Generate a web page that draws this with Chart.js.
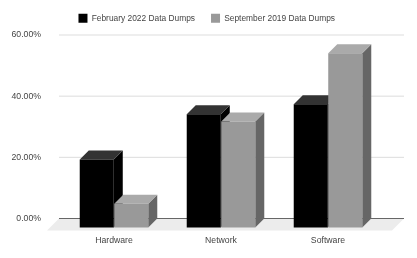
<!DOCTYPE html>
<html>
<head>
	<meta charset="utf-8">
	<title>Data Dumps</title>
	<script src="https://cdn.jsdelivr.net/npm/chart.js@4/dist/chart.umd.min.js"></script>
	<style>
		html, body { margin: 0; padding: 0; background: #fff; }
		canvas { display: block; }
	</style>
</head>
<body>
	<canvas id="chart" width="417" height="258"></canvas>
	<script>
		var categories = ["Hardware", "Network", "Software"];
		var february2022 = [22.2, 37, 40.3];
		var september2019 = [7.8, 34.7, 57];
		var seriesNames = ["February 2022 Data Dumps", "September 2019 Data Dumps"];
		var yTicks = [0, 20, 40, 60];

		var depth = 9;
		var floorDepth = 12;
		var textColor = "#444";
		var legendShiftX = 16;
		var legendShiftY = -2.25;

		// floor and grid lines run wider than the category area, so they are drawn here
		var backdrop = {
			id: "backdrop",
			afterLayout: function (chart) {
				// legend is centred on the whole canvas, not the padded area
				chart.legend.left += legendShiftX;
				chart.legend.right += legendShiftX;
				chart.legend.top += legendShiftY;
				chart.legend.bottom += legendShiftY;
			},
			beforeDatasetsDraw: function (chart) {
				var ctx = chart.ctx, area = chart.chartArea, y = chart.scales.y;
				var left = area.left - 1.5, right = area.right + 22.5;
				var zero = y.getPixelForValue(0);
				ctx.save();
				ctx.fillStyle = "#ececec";
				ctx.beginPath();
				ctx.moveTo(left, zero);
				ctx.lineTo(right, zero);
				ctx.lineTo(right - floorDepth, zero + floorDepth);
				ctx.lineTo(left - floorDepth, zero + floorDepth);
				ctx.closePath();
				ctx.fill();
				y.ticks.forEach(function (t) {
					var py = y.getPixelForValue(t.value);
					ctx.strokeStyle = t.value === 0 ? "#666" : "#ddd";
					ctx.lineWidth = 1;
					ctx.beginPath();
					ctx.moveTo(left, py);
					ctx.lineTo(right, py);
					ctx.stroke();
				});
				ctx.restore();
			}
		};

		// chart.js paints the last dataset first, here the grey one has to go over the black side
		var extrude = {
			id: "extrude",
			beforeDatasetDraw: function () {
				return false;
			},
			afterDatasetsDraw: function (chart) {
				var ctx = chart.ctx;
				ctx.save();
				ctx.translate(0, depth);
				chart.data.datasets.forEach(function (ds, i) {
					var meta = chart.getDatasetMeta(i);
					meta.data.forEach(function (bar) {
						var l = bar.x - bar.width / 2, r = bar.x + bar.width / 2;
						ctx.fillStyle = ds.sideColor;
						ctx.beginPath();
						ctx.moveTo(r, bar.y);
						ctx.lineTo(r + depth, bar.y - depth);
						ctx.lineTo(r + depth, bar.base - depth);
						ctx.lineTo(r, bar.base);
						ctx.closePath();
						ctx.fill();
						ctx.fillStyle = ds.topColor;
						ctx.beginPath();
						ctx.moveTo(l, bar.y);
						ctx.lineTo(l + depth, bar.y - depth);
						ctx.lineTo(r + depth, bar.y - depth);
						ctx.lineTo(r, bar.y);
						ctx.closePath();
						ctx.fill();
					});
					meta.controller.draw();
				});
				ctx.restore();
			}
		};

		new Chart(document.getElementById("chart"), {
			type: "bar",
			data: {
				labels: categories,
				datasets: [
					{ label: seriesNames[0], data: february2022, backgroundColor: "#000", sideColor: "#000", topColor: "#333" },
					{ label: seriesNames[1], data: september2019, backgroundColor: "#999", sideColor: "#666", topColor: "#aaa" }
				]
			},
			options: {
				responsive: false,
				animation: false,
				categoryPercentage: 0.645,
				barPercentage: 0.986,
				layout: { padding: { top: 0, right: 35.5, bottom: 0, left: 0 } },
				plugins: {
					tooltip: { enabled: false },
					legend: {
						position: "top",
						labels: {
							boxWidth: 9,
							boxHeight: 9,
							padding: 16,
							color: textColor,
							font: { family: "Liberation Sans", size: 8.4 }
						}
					}
				},
				scales: {
					x: {
						grid: { display: false, drawTicks: false },
						border: { display: false },
						afterFit: function (s) { s.height = 39.5; },
						ticks: { padding: 17, color: textColor, font: { family: "Liberation Sans", size: 8.7 }, maxRotation: 0 }
					},
					y: {
						min: 0,
						max: 60,
						grid: { display: false, drawTicks: false },
						border: { display: false },
						afterFit: function (s) { s.width = 60.5; },
						afterBuildTicks: function (s) { s.ticks = yTicks.map(function (v) { return { value: v }; }); },
						ticks: {
							padding: 19.5,
							color: textColor,
							font: { family: "Liberation Sans", size: 8.7 },
							callback: function (v) { return v.toFixed(2) + "%"; }
						}
					}
				}
			},
			plugins: [backdrop, extrude]
		});
	</script>
</body>
</html>
